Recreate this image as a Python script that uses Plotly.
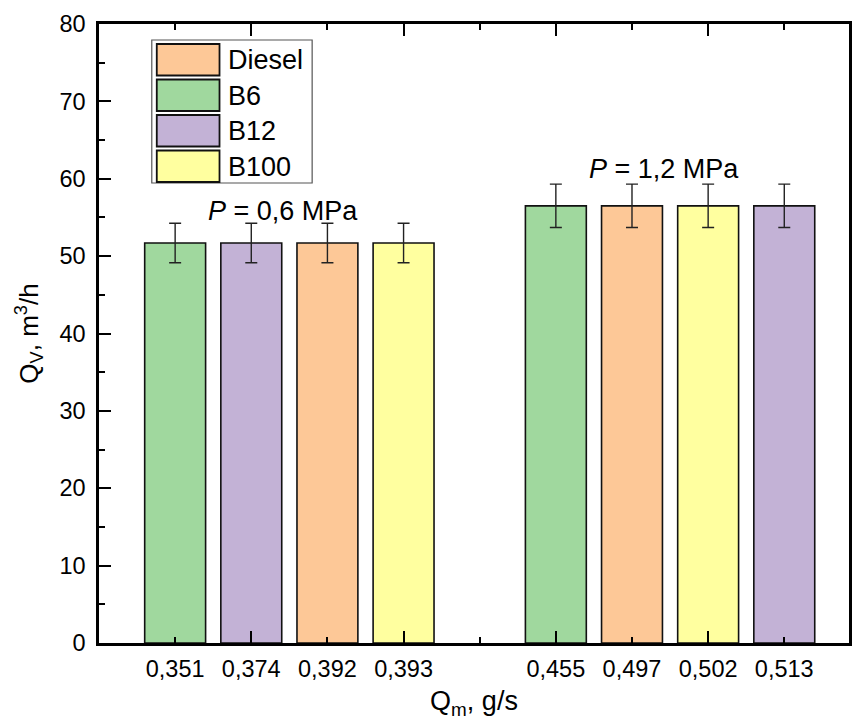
import plotly.graph_objects as go

# ---------------- data ----------------
fuels = ["Diesel", "B6", "B12", "B100"]
fuel_colors = ["#FDC897", "#A0D89E", "#C3B2D6", "#FFFF9F"]

pressure_labels = ["<i>P</i> = 0,6 MPa", "<i>P</i> = 1,2 MPa"]

g1_fuels = ["B6", "B12", "Diesel", "B100"]
g1_qm = ["0,351", "0,374", "0,392", "0,393"]
g1_qv = [51.7, 51.7, 51.7, 51.7]
g1_err = [2.55, 2.55, 2.55, 2.55]

g2_fuels = ["B6", "Diesel", "B100", "B12"]
g2_qm = ["0,455", "0,497", "0,502", "0,513"]
g2_qv = [56.5, 56.5, 56.5, 56.5]
g2_err = [2.8, 2.8, 2.8, 2.8]

y_ticks = [0, 10, 20, 30, 40, 50, 60, 70, 80]

# ---------------- layout helpers ----------------
W, H = 854, 722
ML, MR, MT, MB = 99, 2, 24, 79
PW, PH = W - ML - MR, H - MT - MB
FONT = "Liberation Sans, Arial, sans-serif"


def px_x(p):
    return (p - ML) / PW


def px_y(p):
    return 1 - (p - MT) / PH


groups = [
    (g1_fuels, g1_qm, g1_qv, g1_err),
    (g2_fuels, g2_qm, g2_qv, g2_err),
]

# slot positions: 4 bars, one empty slot, 4 bars
positions, labels = [], []
bars = {f: {"x": [], "y": [], "e": []} for f in fuels}
group_centres, group_tops = [], []
slot = 1
for gi, (gf, gq, gv, ge) in enumerate(groups):
    gpos = []
    for f, q, v, e in zip(gf, gq, gv, ge):
        bars[f]["x"].append(slot)
        bars[f]["y"].append(v)
        bars[f]["e"].append(e)
        positions.append(slot)
        labels.append(q)
        gpos.append(slot)
        slot += 1
    slot += 1
    group_centres.append(sum(gpos) / len(gpos))
    group_tops.append(max(v + e for v, e in zip(gv, ge)))

fig = go.Figure()
for f, c in zip(fuels, fuel_colors):
    fig.add_trace(go.Bar(
        x=bars[f]["x"], y=bars[f]["y"], name=f, width=0.8,
        marker=dict(color=c, line=dict(color="#111111", width=1.6)),
        error_y=dict(type="data", array=bars[f]["e"], visible=True,
                     color="#222222", thickness=1.4, width=6),
        showlegend=False,
    ))

XR = [0, 9.85]
fig.update_layout(
    width=W, height=H,
    margin=dict(l=ML, r=MR, t=MT, b=MB),
    paper_bgcolor="white", plot_bgcolor="white",
    barmode="overlay",
    font=dict(family=FONT, color="black", size=23),
    xaxis=dict(
        range=XR, tickmode="linear", tick0=0, dtick=2,
        ticks="inside", ticklen=12, tickwidth=2, tickcolor="black",
        minor=dict(ticks="inside", ticklen=6, tickwidth=2, dtick=1, tick0=0, tickcolor="black"),
        showticklabels=False, showline=True, linewidth=2.5, linecolor="black",
        mirror="ticks", showgrid=False, zeroline=False,
    ),
    xaxis2=dict(
        range=XR, overlaying="x", anchor="y", side="bottom",
        tickmode="array", tickvals=positions, ticktext=labels,
        ticks="", showline=False, showgrid=False, zeroline=False,
        tickfont=dict(size=23.5), ticklabelstandoff=9,
        title=dict(text="Q<sub>m</sub>, g/s", font=dict(size=27), standoff=10),
    ),
    yaxis=dict(
        range=[0, 80], tickmode="array", tickvals=y_ticks,
        ticks="inside", ticklen=12, tickwidth=2, tickcolor="black",
        minor=dict(ticks="inside", ticklen=6, tickwidth=2, dtick=5, tickcolor="black"),
        showline=True, linewidth=2.5, linecolor="black", mirror=True,
        showgrid=False, zeroline=False,
        tickfont=dict(size=23.5), ticklabelstandoff=6,
        title=dict(text="Q<sub>V</sub>, m<sup>3</sup>/h", font=dict(size=26), standoff=14),
    ),
)
# dummy trace so xaxis2 is drawn
fig.add_trace(go.Scatter(x=positions, y=[None] * len(positions), xaxis="x2",
                         showlegend=False, hoverinfo="skip"))

# pressure annotations
label_y_off = [1.55, 2.0]
for gc, gt, txt, off in zip(group_centres, group_tops, pressure_labels, label_y_off):
    fig.add_annotation(x=gc - 0.08, y=gt + off, text=txt, showarrow=False,
                       xanchor="center", yanchor="middle", font=dict(size=27))

# custom legend (large swatches)
shapes = []
shapes.append(dict(type="rect", xref="paper", yref="paper",
                   x0=px_x(152), x1=px_x(313), y0=px_y(183), y1=px_y(40),
                   line=dict(color="#555555", width=1.2), fillcolor="white", layer="above"))
for i, (f, c) in enumerate(zip(fuels, fuel_colors)):
    top = 44 + i * 35.5
    shapes.append(dict(type="rect", xref="paper", yref="paper",
                       x0=px_x(157), x1=px_x(220), y0=px_y(top + 31.5), y1=px_y(top),
                       line=dict(color="#111111", width=1.8), fillcolor=c, layer="above"))
    fig.add_annotation(xref="paper", yref="paper", x=px_x(227), y=px_y(top + 16),
                       text=f, showarrow=False, xanchor="left", yanchor="middle",
                       font=dict(size=27))
fig.update_layout(shapes=shapes)

fig.write_html("out.html")
